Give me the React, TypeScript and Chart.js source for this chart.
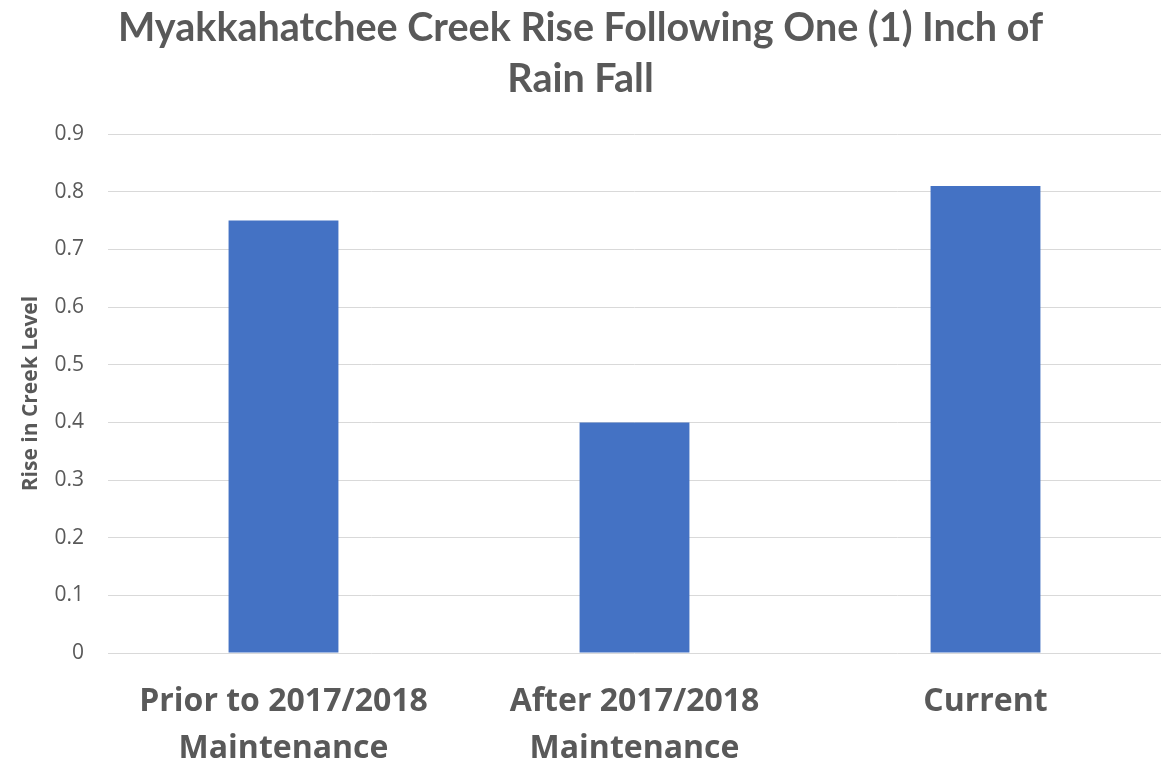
import React, { useEffect, useRef } from "react";
import { Chart, registerables } from "chart.js";

Chart.register(...registerables);

const categories: string[][] = [
  ["Prior to 2017/2018", "Maintenance"],
  ["After 2017/2018", "Maintenance"],
  ["Current"],
];
const riseValues: number[] = [0.75, 0.4, 0.81];
const titleLines: string[] = ["Myakkahatchee Creek Rise Following One (1) Inch of", "Rain Fall"];
const yAxisTitle = "Rise in Creek Level";

export default function App() {
  const ref = useRef<HTMLCanvasElement | null>(null);
  useEffect(() => {
    document.body.style.margin = "0";
    const ctx = ref.current!;
    const chart = new Chart(ctx, {
      type: "bar",
      data: {
        labels: categories,
        datasets: [
          {
            data: riseValues,
            backgroundColor: "#4472C4",
            borderWidth: 0,
            barPercentage: 0.313,
            categoryPercentage: 1,
          },
        ],
      },
      options: {
        animation: false,
        responsive: false,
        maintainAspectRatio: false,
        layout: { padding: { top: 0, right: 6, left: 0, bottom: 0 } },
        plugins: {
          legend: { display: false },
          tooltip: { enabled: false },
          title: {
            display: true,
            text: titleLines,
            color: "#595959",
            font: { family: "Lato", size: 39.5, weight: "bold", lineHeight: 1.28 },
            padding: { top: 3, bottom: 30 },
          },
        },
        scales: {
          x: {
            grid: { display: false, drawTicks: false },
            border: { display: false },
            ticks: {
              color: "#595959",
              font: { family: "Open Sans", size: 32, weight: "bold", lineHeight: 1.45 },
              padding: 26,
              maxRotation: 0,
              autoSkip: false,
            },
            afterFit: (s: any) => {
              s.height = 108;
            },
          },
          y: {
            min: 0,
            max: 0.9,
            grid: { color: "#d9d9d9", lineWidth: 1, drawTicks: false },
            border: { display: false },
            ticks: {
              stepSize: 0.1,
              color: "#595959",
              font: { family: "Open Sans", size: 21 },
              padding: 24,
              callback: (v: any) => {
                const n = Math.round(Number(v) * 10) / 10;
                return n === 0 ? "0" : n.toFixed(1);
              },
            },
            title: {
              display: true,
              text: yAxisTitle,
              color: "#595959",
              font: { family: "Open Sans", size: 21, weight: "bold" },
              padding: { top: 18, bottom: 0 },
            },
            afterFit: (s: any) => {
              s.width = 108;
            },
          },
        },
      },
    });
    return () => chart.destroy();
  }, []);
  return (
    <div style={{ position: "absolute", left: 0, top: 0, width: 1167, height: 761, background: "#fff" }}>
      <canvas ref={ref} width={1167} height={761} style={{ width: 1167, height: 761 }} />
    </div>
  );
}
